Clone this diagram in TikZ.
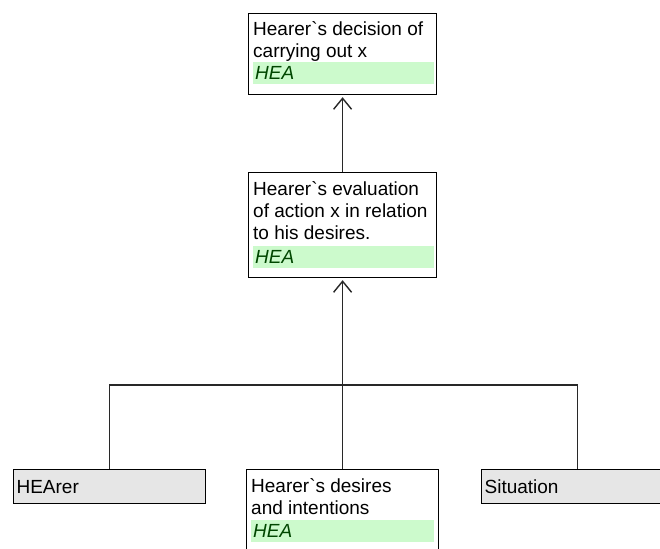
\documentclass[tikz,border=0pt]{standalone}
\usepackage{fontspec}
\setmainfont{Liberation Sans}
\usetikzlibrary{arrows.meta}
\definecolor{heagreen}{RGB}{204,250,204}
\definecolor{heatext}{RGB}{0,70,0}
\definecolor{boxgray}{RGB}{230,230,230}
\definecolor{linegray}{RGB}{40,40,40}
\newcommand{\bq}{\textasciigrave}

\begin{document}
\begin{tikzpicture}[x=1pt,y=1pt,
  font=\fontsize{19}{22}\selectfont,
  goalbox/.style={draw=black,line width=1.2pt,fill=white,anchor=north west,inner sep=0pt,minimum width=188pt},
  goaltext/.style={anchor=north west,inner sep=0pt,align=left},
  heabar/.style={fill=heagreen,anchor=north west,inner xsep=2pt,inner ysep=0pt,text width=177pt,minimum height=22pt,align=left,font=\fontsize{19}{22}\selectfont\itshape,text=heatext},
  factbox/.style={draw=black,line width=1.2pt,fill=boxgray,anchor=north west,inner xsep=3pt,text width=186pt,minimum height=34pt,align=left},
  link/.style={draw=linegray,line width=1.4pt},
  uparrow/.style={link,shorten >=2pt,-{Straight Barb[length=11pt,width=18pt]}}]
  \useasboundingbox (0,0) rectangle (660,-548);

  % top: decision
  \node[goalbox,minimum height=81pt] (decision) at (248,-13) {};
  \node[goaltext] (decisiontxt) at (253,-21) {Hearer\bq s decision of\\carrying out x};
  \node[heabar] (decisionhea) at (253,-62) {HEA};

  % middle: evaluation
  \node[goalbox,minimum height=105pt] (evaluation) at (248,-172) {};
  \node[goaltext] (evaluationtxt) at (253,-181) {Hearer\bq s evaluation\\of action x in relation\\to his desires.};
  \node[heabar] (evaluationhea) at (253,-246) {HEA};

  % bottom row
  \node[factbox] (hearer) at (13,-469) {HEArer};
  \node[goalbox,minimum width=192pt,minimum height=100pt] (desires) at (246,-469) {};
  \node[goaltext] (desirestxt) at (251,-478) {Hearer\bq s desires\\and intentions};
  \node[heabar,text width=179pt] (desireshea) at (251,-520) {HEA};
  \node[factbox] (situation) at (481,-469) {Situation};

  \coordinate (join) at (desires.north |- 0,-385);
  \draw[link] (hearer.north) |- (join);
  \draw[link] (situation.north) |- (join);
  \draw[link] (desires.north) -- (join);
  \draw[uparrow] (join) -- (evaluation.south);
  \draw[uparrow] (evaluation.north) -- (decision.south);
\end{tikzpicture}
\end{document}
